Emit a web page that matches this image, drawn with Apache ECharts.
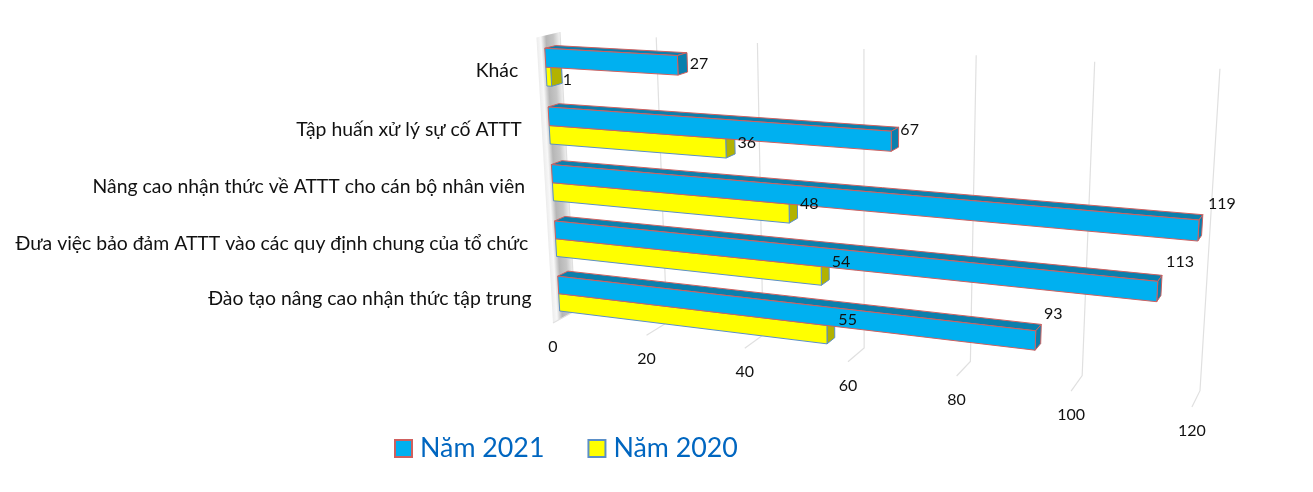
<!DOCTYPE html>
<html>
<head>
<meta charset="utf-8">
<style>
  html, body { margin: 0; padding: 0; background: #fff; }
  #chart { width: 1313px; height: 492px; }
</style>
<script src="https://cdn.jsdelivr.net/npm/echarts@6/dist/echarts.min.js"></script>
</head>
<body>
<div id="chart"></div>
<script>
// bottom to top, same order as the y axis
var categories = [
  'Đào tạo nâng cao nhận thức tập trung',
  'Đưa việc bảo đảm ATTT vào các quy định chung của tổ chức',
  'Nâng cao nhận thức về ATTT cho cán bộ nhân viên',
  'Tập huấn xử lý sự cố ATTT',
  'Khác'
]
var values2021 = [93, 113, 119, 67, 27]
var values2020 = [55, 54, 48, 36, 1]
var tickValues = [0, 20, 40, 60, 80, 100, 120]

var chart = echarts.init(document.getElementById('chart'))
var W = 1313, H = 492
var FONT = 'Lato, "Noto Sans", sans-serif'

// camera of the 3d plot: X value 0..1, Y height 0..1, Z depth 0..1
function project(X, Y, Z) {
  var w = 1 - 0.1424 * X - 0.05 * Y + 0.02416 * Z
  return [
    (553 + 469.2 * X - 43.4 * Y + 35.9 * Z) / w,
    (323 + 26 * X - 287.3 * Y - 4.5 * Z) / w
  ]
}

var Z_FRONT = 0.32, Z_BACK = 0.78, Y_SHIFT = -0.006, BAR_RATIO = 0.32, BAR_LIFT = 3

// bars sit a little higher than the floor line towards the far end
function projectBar(X, Y, Z) {
  var p = project(X, Y, Z)
  return [p[0], p[1] - BAR_LIFT * X]
}

function toX(px) { return px / W }
function toY(py) { return 1 - py / H }

function poly(points, fill, stroke) {
  return {
    type: 'polygon',
    shape: { points: points },
    style: { fill: fill, stroke: stroke, lineWidth: 1 }
  }
}

function barRenderer(fill, side, stroke, upper) {
  return function (params, api) {
    var cat = api.value(0)
    var p0 = api.coord([0, cat])
    var p1 = api.coord([api.value(1), cat])
    var band = api.size([0, 1])[1] / H
    var x1 = toX(p1[0])
    var yc = toY(p0[1]) + Y_SHIFT
    var yTop = upper ? yc + BAR_RATIO * band : yc
    var yBot = upper ? yc : yc - BAR_RATIO * band
    return {
      type: 'group',
      children: [
        poly([projectBar(0, yTop, Z_BACK), projectBar(x1, yTop, Z_BACK), projectBar(x1, yTop, Z_FRONT), projectBar(0, yTop, Z_FRONT)], side, stroke),
        poly([projectBar(x1, yTop, Z_FRONT), projectBar(x1, yTop, Z_BACK), projectBar(x1, yBot, Z_BACK), projectBar(x1, yBot, Z_FRONT)], side, stroke),
        poly([projectBar(0, yTop, Z_FRONT), projectBar(x1, yTop, Z_FRONT), projectBar(x1, yBot, Z_FRONT), projectBar(0, yBot, Z_FRONT)], fill, stroke)
      ]
    }
  }
}

// hand placed in the original, offset from the far top corner of the bar
var labelOffset2021 = [[12, -11], [18, -13], [19, -11], [11, 3], [12, 11]]
var labelOffset2020 = [[13, 0], [12, 1], [12, 4], [12, 8], [6, 15]]

function labelRenderer(offsets, upper) {
  return function (params, api) {
    var cat = api.value(0)
    var p0 = api.coord([0, cat])
    var p1 = api.coord([api.value(1), cat])
    var band = api.size([0, 1])[1] / H
    var yc = toY(p0[1]) + Y_SHIFT
    var yTop = upper ? yc + BAR_RATIO * band : yc
    var end = projectBar(toX(p1[0]), yTop, Z_BACK)
    var off = offsets[params.dataIndex]
    return {
      type: 'text',
      x: end[0] + off[0],
      y: end[1] + off[1],
      style: { text: String(api.value(1)), fill: '#111', font: '16px ' + FONT, align: 'center', verticalAlign: 'middle' }
    }
  }
}

var option = {
  animation: false,
  backgroundColor: '#fff',
  grid: { left: 0, right: 0, top: 0, bottom: 0 },
  xAxis: { type: 'value', min: 0, max: 120, interval: 20, show: false },
  yAxis: { type: 'category', data: categories, show: false },
  legend: {
    left: 389,
    top: 430,
    itemWidth: 17,
    itemHeight: 17,
    itemGap: 43,
    icon: 'rect',
    data: ['Năm 2021', 'Năm 2020'],
    textStyle: { color: '#0066C0', fontSize: 26.8, fontFamily: FONT, padding: [0, 0, 0, 3] }
  },
  series: [
    {
      // side wall and gridlines
      type: 'custom',
      silent: true,
      data: tickValues.map(function (t) { return [t] }),
      encode: { x: 0 },
      renderItem: function (params, api) {
        var t = api.value(0)
        var X = toX(api.coord([t, 0])[0])
        var children = []
        if (t === 0) {
          // shade runs across the wall, square to its slanted edges
          var a = project(0, 0.5, 0)
          var top = project(0, 1, 0), bot = project(0, 0, 0)
          var dx = bot[0] - top[0], dy = bot[1] - top[1]
          var len = Math.sqrt(dx * dx + dy * dy), across = 24
          children.push({
            type: 'polygon',
            shape: { points: [project(0, 0, 0), project(0, 0, 1), project(0, 1, 1), project(0, 1, 0)] },
            style: {
              fill: new echarts.graphic.LinearGradient(a[0], a[1], a[0] + across * dy / len, a[1] - across * dx / len, [
                { offset: 0, color: '#ececec' },
                { offset: 0.18, color: '#f8f8f8' },
                { offset: 0.4, color: '#b6b6b6' },
                { offset: 0.7, color: '#c6c6c6' },
                { offset: 1, color: '#f6f6f6' }
              ], true)
            }
          })
        }
        var pts = [project(X, 0, 0), project(X, 0, 1), project(X, 1, 1)]
        children.push({
          type: 'polyline',
          shape: { points: pts },
          style: { stroke: '#e0e0e0', lineWidth: 1.2, fill: 'none' }
        })
        children.push({
          type: 'text',
          x: pts[0][0],
          y: pts[0][1] + 24,
          style: { text: String(t), fill: '#111', font: '16px ' + FONT, align: 'center', verticalAlign: 'middle' }
        })
        return { type: 'group', children: children }
      }
    },
    {
      name: 'Năm 2020',
      type: 'custom',
      silent: true,
      data: values2020.map(function (v, i) { return [i, v] }).reverse(),
      encode: { y: 0, x: 1 },
      itemStyle: { color: '#FFFF00', borderColor: '#5B8FC8', borderWidth: 1 },
      renderItem: barRenderer('#FFFF00', '#B2B200', '#5B8FC8', false)
    },
    {
      name: 'Năm 2021',
      type: 'custom',
      silent: true,
      data: values2021.map(function (v, i) { return [i, v] }).reverse(),
      encode: { y: 0, x: 1 },
      itemStyle: { color: '#00B0F0', borderColor: '#D0605E', borderWidth: 1 },
      renderItem: barRenderer('#00B0F0', '#0A7FAD', '#D0605E', true)
    },
    {
      // category names
      type: 'custom',
      silent: true,
      data: categories.map(function (c, i) { return [i] }),
      encode: { y: 0 },
      renderItem: function (params, api) {
        var cat = api.value(0)
        var yc = toY(api.coord([0, cat])[1]) + Y_SHIFT
        var p = project(0, yc, 0)
        return {
          type: 'text',
          x: p[0] - 20,
          y: p[1] + 1.5,
          style: { text: categories[cat], fill: '#111', font: '19.4px ' + FONT, align: 'right', verticalAlign: 'middle' }
        }
      }
    },
    {
      type: 'custom',
      silent: true,
      data: values2021.map(function (v, i) { return [i, v] }),
      encode: { y: 0, x: 1 },
      renderItem: labelRenderer(labelOffset2021, true)
    },
    {
      type: 'custom',
      silent: true,
      data: values2020.map(function (v, i) { return [i, v] }),
      encode: { y: 0, x: 1 },
      renderItem: labelRenderer(labelOffset2020, false)
    }
  ]
}
chart.setOption(option)
</script>
</body>
</html>
